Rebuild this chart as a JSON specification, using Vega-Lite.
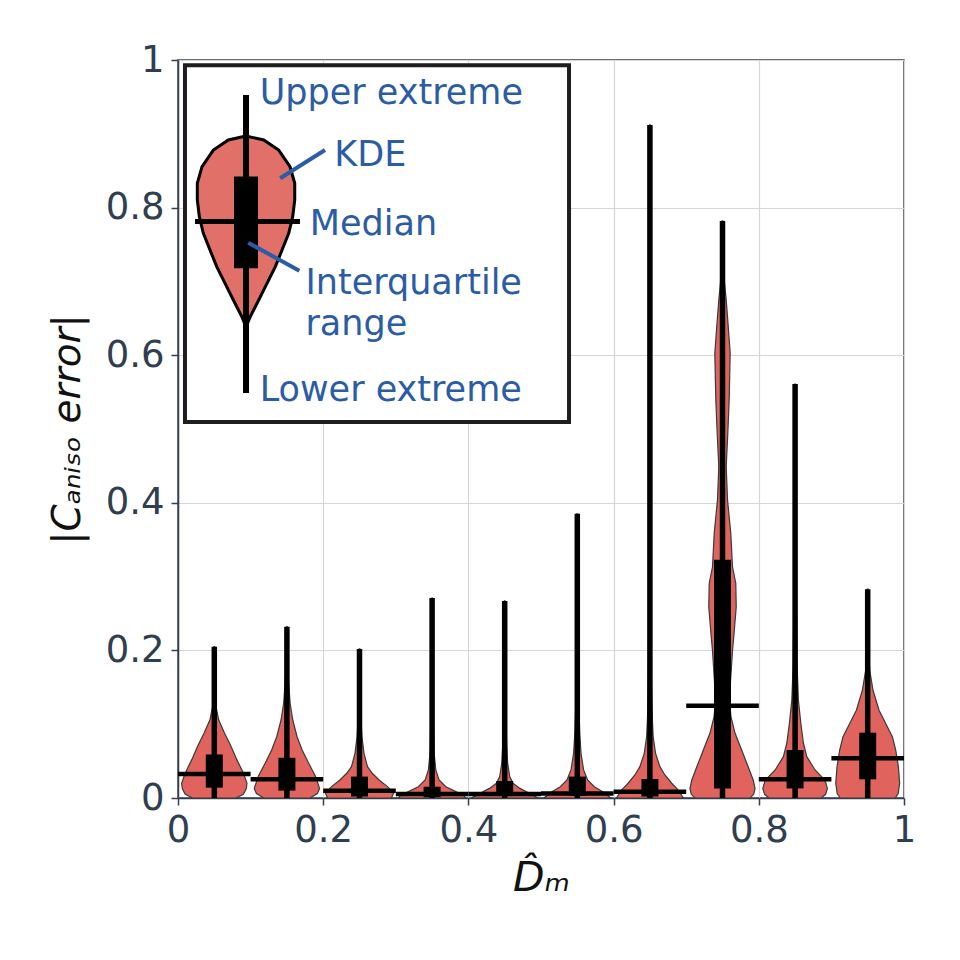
{
  "$schema": "https://vega.github.io/schema/vega-lite/v6.json",
  "autosize": {"type": "none"},
  "padding": {"left": 178, "top": 60, "right": 56, "bottom": 162},
  "width": 726,
  "height": 738,
  "background": "white",
  "config": {
    "font": "DejaVu Sans",
    "view": {"stroke": "#34404f", "strokeWidth": 1.5},
    "axis": {
      "labelFont": "DejaVu Sans",
      "titleFont": "DejaVu Sans",
      "labelFontSize": 37,
      "titleFontSize": 39,
      "labelColor": "#2f3e50",
      "titleColor": "#111111",
      "titleFontWeight": "normal",
      "labelFlush": false,
      "domainColor": "#34404f",
      "domainWidth": 1.5,
      "tickColor": "#34404f",
      "tickSize": 7,
      "tickWidth": 1.5,
      "gridColor": "#d6d6d6",
      "gridWidth": 1.2
    }
  },
  "datasets": {
    "violins": [
      {"g": 0.05, "y": 0, "lo": 0.02, "hi": 0.08},
      {"g": 0.05, "y": 0.005, "lo": 0.01, "hi": 0.09},
      {"g": 0.05, "y": 0.0125, "lo": 0.006, "hi": 0.094},
      {"g": 0.05, "y": 0.02, "lo": 0.005, "hi": 0.095},
      {"g": 0.05, "y": 0.034, "lo": 0.01, "hi": 0.09},
      {"g": 0.05, "y": 0.052, "lo": 0.019, "hi": 0.081},
      {"g": 0.05, "y": 0.07, "lo": 0.027, "hi": 0.073},
      {"g": 0.05, "y": 0.088, "lo": 0.036, "hi": 0.064},
      {"g": 0.05, "y": 0.106, "lo": 0.044, "hi": 0.056},
      {"g": 0.05, "y": 0.124, "lo": 0.0478, "hi": 0.0522},
      {"g": 0.05, "y": 0.15, "lo": 0.049, "hi": 0.051},
      {"g": 0.05, "y": 0.205, "lo": 0.0495, "hi": 0.0505},

      {"g": 0.15, "y": 0, "lo": 0.118, "hi": 0.182},
      {"g": 0.15, "y": 0.006, "lo": 0.108, "hi": 0.192},
      {"g": 0.15, "y": 0.013, "lo": 0.105, "hi": 0.195},
      {"g": 0.15, "y": 0.029, "lo": 0.1105, "hi": 0.1895},
      {"g": 0.15, "y": 0.047, "lo": 0.12, "hi": 0.18},
      {"g": 0.15, "y": 0.065, "lo": 0.129, "hi": 0.171},
      {"g": 0.15, "y": 0.083, "lo": 0.136, "hi": 0.164},
      {"g": 0.15, "y": 0.106, "lo": 0.142, "hi": 0.158},
      {"g": 0.15, "y": 0.128, "lo": 0.1455, "hi": 0.1545},
      {"g": 0.15, "y": 0.151, "lo": 0.1472, "hi": 0.1528},
      {"g": 0.15, "y": 0.173, "lo": 0.1486, "hi": 0.1514},
      {"g": 0.15, "y": 0.232, "lo": 0.1495, "hi": 0.1505},

      {"g": 0.25, "y": 0, "lo": 0.206, "hi": 0.294},
      {"g": 0.25, "y": 0.0065, "lo": 0.203, "hi": 0.297},
      {"g": 0.25, "y": 0.0154, "lo": 0.2115, "hi": 0.2885},
      {"g": 0.25, "y": 0.0244, "lo": 0.223, "hi": 0.277},
      {"g": 0.25, "y": 0.0335, "lo": 0.2324, "hi": 0.2676},
      {"g": 0.25, "y": 0.0425, "lo": 0.239, "hi": 0.261},
      {"g": 0.25, "y": 0.0605, "lo": 0.2438, "hi": 0.2562},
      {"g": 0.25, "y": 0.083, "lo": 0.2466, "hi": 0.2534},
      {"g": 0.25, "y": 0.106, "lo": 0.248, "hi": 0.252},
      {"g": 0.25, "y": 0.15, "lo": 0.2489, "hi": 0.2511},
      {"g": 0.25, "y": 0.202, "lo": 0.2495, "hi": 0.2505},

      {"g": 0.35, "y": 0, "lo": 0.304, "hi": 0.396},
      {"g": 0.35, "y": 0.003, "lo": 0.306, "hi": 0.394},
      {"g": 0.35, "y": 0.0086, "lo": 0.3174, "hi": 0.3826},
      {"g": 0.35, "y": 0.0153, "lo": 0.331, "hi": 0.369},
      {"g": 0.35, "y": 0.0244, "lo": 0.3404, "hi": 0.3596},
      {"g": 0.35, "y": 0.038, "lo": 0.3449, "hi": 0.3551},
      {"g": 0.35, "y": 0.061, "lo": 0.3472, "hi": 0.3528},
      {"g": 0.35, "y": 0.106, "lo": 0.3483, "hi": 0.3517},
      {"g": 0.35, "y": 0.2, "lo": 0.3492, "hi": 0.3508},
      {"g": 0.35, "y": 0.271, "lo": 0.3495, "hi": 0.3505},

      {"g": 0.45, "y": 0, "lo": 0.404, "hi": 0.496},
      {"g": 0.45, "y": 0.0063, "lo": 0.416, "hi": 0.484},
      {"g": 0.45, "y": 0.013, "lo": 0.429, "hi": 0.471},
      {"g": 0.45, "y": 0.02, "lo": 0.4386, "hi": 0.4614},
      {"g": 0.45, "y": 0.029, "lo": 0.4431, "hi": 0.4569},
      {"g": 0.45, "y": 0.047, "lo": 0.4459, "hi": 0.4541},
      {"g": 0.45, "y": 0.0695, "lo": 0.4472, "hi": 0.4528},
      {"g": 0.45, "y": 0.106, "lo": 0.4483, "hi": 0.4517},
      {"g": 0.45, "y": 0.2, "lo": 0.4492, "hi": 0.4508},
      {"g": 0.45, "y": 0.267, "lo": 0.4495, "hi": 0.4505},

      {"g": 0.55, "y": 0, "lo": 0.504, "hi": 0.596},
      {"g": 0.55, "y": 0.0085, "lo": 0.515, "hi": 0.585},
      {"g": 0.55, "y": 0.0153, "lo": 0.5266, "hi": 0.5734},
      {"g": 0.55, "y": 0.0244, "lo": 0.5358, "hi": 0.5642},
      {"g": 0.55, "y": 0.038, "lo": 0.5413, "hi": 0.5587},
      {"g": 0.55, "y": 0.0605, "lo": 0.5449, "hi": 0.5551},
      {"g": 0.55, "y": 0.088, "lo": 0.5466, "hi": 0.5534},
      {"g": 0.55, "y": 0.128, "lo": 0.548, "hi": 0.552},
      {"g": 0.55, "y": 0.25, "lo": 0.549, "hi": 0.551},
      {"g": 0.55, "y": 0.385, "lo": 0.5495, "hi": 0.5505},

      {"g": 0.65, "y": 0, "lo": 0.604, "hi": 0.696},
      {"g": 0.65, "y": 0.0108, "lo": 0.611, "hi": 0.689},
      {"g": 0.65, "y": 0.02, "lo": 0.62, "hi": 0.68},
      {"g": 0.65, "y": 0.0312, "lo": 0.6293, "hi": 0.6707},
      {"g": 0.65, "y": 0.0425, "lo": 0.6362, "hi": 0.6638},
      {"g": 0.65, "y": 0.0605, "lo": 0.6422, "hi": 0.6578},
      {"g": 0.65, "y": 0.083, "lo": 0.6455, "hi": 0.6545},
      {"g": 0.65, "y": 0.106, "lo": 0.6466, "hi": 0.6534},
      {"g": 0.65, "y": 0.151, "lo": 0.6477, "hi": 0.6523},
      {"g": 0.65, "y": 0.3, "lo": 0.649, "hi": 0.651},
      {"g": 0.65, "y": 0.912, "lo": 0.6496, "hi": 0.6504},

      {"g": 0.75, "y": 0, "lo": 0.712, "hi": 0.788},
      {"g": 0.75, "y": 0.005, "lo": 0.707, "hi": 0.793},
      {"g": 0.75, "y": 0.013, "lo": 0.7052, "hi": 0.7948},
      {"g": 0.75, "y": 0.024, "lo": 0.7076, "hi": 0.7924},
      {"g": 0.75, "y": 0.042, "lo": 0.7145, "hi": 0.7855},
      {"g": 0.75, "y": 0.065, "lo": 0.7236, "hi": 0.7764},
      {"g": 0.75, "y": 0.088, "lo": 0.7328, "hi": 0.7672},
      {"g": 0.75, "y": 0.11, "lo": 0.7383, "hi": 0.7617},
      {"g": 0.75, "y": 0.133, "lo": 0.7406, "hi": 0.7594},
      {"g": 0.75, "y": 0.2, "lo": 0.7362, "hi": 0.7638},
      {"g": 0.75, "y": 0.224, "lo": 0.734, "hi": 0.766},
      {"g": 0.75, "y": 0.259, "lo": 0.7311, "hi": 0.7689},
      {"g": 0.75, "y": 0.291, "lo": 0.7317, "hi": 0.7683},
      {"g": 0.75, "y": 0.313, "lo": 0.7362, "hi": 0.7638},
      {"g": 0.75, "y": 0.359, "lo": 0.7386, "hi": 0.7614},
      {"g": 0.75, "y": 0.404, "lo": 0.7431, "hi": 0.7569},
      {"g": 0.75, "y": 0.449, "lo": 0.7449, "hi": 0.7551},
      {"g": 0.75, "y": 0.494, "lo": 0.7427, "hi": 0.7573},
      {"g": 0.75, "y": 0.539, "lo": 0.7408, "hi": 0.7592},
      {"g": 0.75, "y": 0.603, "lo": 0.7394, "hi": 0.7606},
      {"g": 0.75, "y": 0.652, "lo": 0.7431, "hi": 0.7569},
      {"g": 0.75, "y": 0.675, "lo": 0.7449, "hi": 0.7551},
      {"g": 0.75, "y": 0.698, "lo": 0.7472, "hi": 0.7528},
      {"g": 0.75, "y": 0.72, "lo": 0.7483, "hi": 0.7517},
      {"g": 0.75, "y": 0.782, "lo": 0.7495, "hi": 0.7505},

      {"g": 0.85, "y": 0, "lo": 0.814, "hi": 0.886},
      {"g": 0.85, "y": 0.005, "lo": 0.808, "hi": 0.892},
      {"g": 0.85, "y": 0.013, "lo": 0.8055, "hi": 0.8945},
      {"g": 0.85, "y": 0.024, "lo": 0.8087, "hi": 0.8913},
      {"g": 0.85, "y": 0.038, "lo": 0.8225, "hi": 0.8775},
      {"g": 0.85, "y": 0.056, "lo": 0.8339, "hi": 0.8661},
      {"g": 0.85, "y": 0.0745, "lo": 0.8386, "hi": 0.8614},
      {"g": 0.85, "y": 0.101, "lo": 0.8421, "hi": 0.8579},
      {"g": 0.85, "y": 0.133, "lo": 0.8455, "hi": 0.8545},
      {"g": 0.85, "y": 0.178, "lo": 0.8472, "hi": 0.8528},
      {"g": 0.85, "y": 0.3, "lo": 0.8488, "hi": 0.8512},
      {"g": 0.85, "y": 0.561, "lo": 0.8495, "hi": 0.8505},

      {"g": 0.95, "y": 0, "lo": 0.912, "hi": 0.988},
      {"g": 0.95, "y": 0.006, "lo": 0.908, "hi": 0.992},
      {"g": 0.95, "y": 0.02, "lo": 0.906, "hi": 0.994},
      {"g": 0.95, "y": 0.042, "lo": 0.9077, "hi": 0.9923},
      {"g": 0.95, "y": 0.065, "lo": 0.9114, "hi": 0.9886},
      {"g": 0.95, "y": 0.083, "lo": 0.916, "hi": 0.984},
      {"g": 0.95, "y": 0.101, "lo": 0.9252, "hi": 0.9748},
      {"g": 0.95, "y": 0.119, "lo": 0.9344, "hi": 0.9656},
      {"g": 0.95, "y": 0.146, "lo": 0.9427, "hi": 0.9573},
      {"g": 0.95, "y": 0.173, "lo": 0.9472, "hi": 0.9528},
      {"g": 0.95, "y": 0.2, "lo": 0.9486, "hi": 0.9514},
      {"g": 0.95, "y": 0.283, "lo": 0.9495, "hi": 0.9505}
    ],
    "stats": [
      {"g": 0.05, "b0": 0.0, "b1": 0.1, "min": 0, "q1": 0.014, "med": 0.0325, "q3": 0.059, "max": 0.205},
      {"g": 0.15, "b0": 0.1, "b1": 0.2, "min": 0, "q1": 0.01, "med": 0.0253, "q3": 0.0545, "max": 0.232},
      {"g": 0.25, "b0": 0.2, "b1": 0.3, "min": 0, "q1": 0.002, "med": 0.0099, "q3": 0.029, "max": 0.202},
      {"g": 0.35, "b0": 0.3, "b1": 0.4, "min": 0, "q1": 0.001, "med": 0.0054, "q3": 0.0153, "max": 0.271},
      {"g": 0.45, "b0": 0.4, "b1": 0.5, "min": 0, "q1": 0.003, "med": 0.0054, "q3": 0.023, "max": 0.267},
      {"g": 0.55, "b0": 0.5, "b1": 0.6, "min": 0, "q1": 0.003, "med": 0.006, "q3": 0.029, "max": 0.385},
      {"g": 0.65, "b0": 0.6, "b1": 0.7, "min": 0, "q1": 0.002, "med": 0.0085, "q3": 0.0257, "max": 0.912},
      {"g": 0.75, "b0": 0.7, "b1": 0.8, "min": 0, "q1": 0.013, "med": 0.125, "q3": 0.323, "max": 0.782},
      {"g": 0.85, "b0": 0.8, "b1": 0.9, "min": 0, "q1": 0.013, "med": 0.0253, "q3": 0.065, "max": 0.561},
      {"g": 0.95, "b0": 0.9, "b1": 1.0, "min": 0, "q1": 0.0253, "med": 0.0538, "q3": 0.0885, "max": 0.283}
    ],
    "key_box": [
      {"x0": 0.0096, "x1": 0.5386, "y0": 0.5095, "y1": 0.993}
    ],
    "key_violin": [
      {"y": 0.6386, "lo": 0.0937, "hi": 0.0937},
      {"y": 0.6522, "lo": 0.0878, "hi": 0.0996},
      {"y": 0.6748, "lo": 0.0762, "hi": 0.1112},
      {"y": 0.6974, "lo": 0.0648, "hi": 0.1226},
      {"y": 0.72, "lo": 0.0533, "hi": 0.1341},
      {"y": 0.7425, "lo": 0.0441, "hi": 0.1433},
      {"y": 0.7652, "lo": 0.0349, "hi": 0.1525},
      {"y": 0.7877, "lo": 0.0294, "hi": 0.158},
      {"y": 0.8103, "lo": 0.0266, "hi": 0.1608},
      {"y": 0.833, "lo": 0.0266, "hi": 0.1608},
      {"y": 0.8555, "lo": 0.0331, "hi": 0.1543},
      {"y": 0.878, "lo": 0.0487, "hi": 0.1387},
      {"y": 0.8916, "lo": 0.0693, "hi": 0.1181},
      {"y": 0.897, "lo": 0.0937, "hi": 0.0937}
    ],
    "key_stats": [
      {"c": 0.0937, "m0": 0.0234, "m1": 0.168, "lo": 0.5488, "q1": 0.7177, "med": 0.781, "q3": 0.842, "hi": 0.9526}
    ],
    "key_pointers": [
      {"x": 0.1408, "y": 0.8397, "x2": 0.2025, "y2": 0.878},
      {"x": 0.0968, "y": 0.7524, "x2": 0.1671, "y2": 0.7145}
    ],
    "key_labels": [
      {"x": 0.1125, "y": 0.94, "label": "Upper extreme"},
      {"x": 0.2153, "y": 0.8564, "label": "KDE"},
      {"x": 0.1815, "y": 0.7629, "label": "Median"},
      {"x": 0.1755, "y": 0.6825, "label": "Interquartile"},
      {"x": 0.1755, "y": 0.6274, "label": "range"},
      {"x": 0.1125, "y": 0.5384, "label": "Lower extreme"}
    ]
  },
  "layer": [
    {
      "data": {"name": "violins"},
      "mark": {"type": "area", "orient": "horizontal", "fill": "#e0635d", "fillOpacity": 1, "stroke": "#3a3a3a", "strokeWidth": 1.2},
      "encoding": {
        "y": {
          "field": "y",
          "type": "quantitative",
          "scale": {"domain": [0, 1], "nice": false, "zero": false},
          "axis": {
            "values": [0, 0.2, 0.4, 0.6, 0.8, 1],
            "format": "~g",
            "title": "|Cₐₙᵢₛₒ error|",
            "titleFontStyle": "italic",
            "labelPadding": 7,
            "titlePadding": 18
          }
        },
        "x": {
          "field": "lo",
          "type": "quantitative",
          "scale": {"domain": [0, 1], "nice": false, "zero": false},
          "axis": {
            "values": [0, 0.2, 0.4, 0.6, 0.8, 1],
            "format": "~g",
            "title": "D̂ₘ",
            "titleFontSize": 41,
            "titleFontStyle": "italic",
            "labelPadding": 7,
            "titlePadding": 10
          }
        },
        "x2": {"field": "hi"},
        "detail": {"field": "g", "type": "nominal"}
      }
    },
    {
      "data": {"name": "stats"},
      "mark": {"type": "rule", "color": "black", "strokeWidth": 5.5, "strokeCap": "butt"},
      "encoding": {
        "x": {"field": "g", "type": "quantitative"},
        "y": {"field": "min", "type": "quantitative"},
        "y2": {"field": "max"}
      }
    },
    {
      "data": {"name": "stats"},
      "mark": {"type": "rule", "color": "black", "strokeWidth": 17, "strokeCap": "butt"},
      "encoding": {
        "x": {"field": "g", "type": "quantitative"},
        "y": {"field": "q1", "type": "quantitative"},
        "y2": {"field": "q3"}
      }
    },
    {
      "data": {"name": "stats"},
      "mark": {"type": "rule", "color": "black", "strokeWidth": 4.5, "strokeCap": "butt"},
      "encoding": {
        "x": {"field": "b0", "type": "quantitative"},
        "x2": {"field": "b1"},
        "y": {"field": "med", "type": "quantitative"}
      }
    },
    {
      "data": {"name": "key_box"},
      "mark": {"type": "rect", "fill": "white", "stroke": "#1e1e1e", "strokeWidth": 4},
      "encoding": {
        "x": {"field": "x0", "type": "quantitative"},
        "x2": {"field": "x1"},
        "y": {"field": "y0", "type": "quantitative"},
        "y2": {"field": "y1"}
      }
    },
    {
      "data": {"name": "key_violin"},
      "mark": {"type": "area", "orient": "horizontal", "fill": "#e07068", "fillOpacity": 1, "stroke": "black", "strokeWidth": 3},
      "encoding": {
        "y": {"field": "y", "type": "quantitative"},
        "x": {"field": "lo", "type": "quantitative"},
        "x2": {"field": "hi"}
      }
    },
    {
      "data": {"name": "key_stats"},
      "mark": {"type": "rule", "color": "black", "strokeWidth": 6, "strokeCap": "butt"},
      "encoding": {
        "x": {"field": "c", "type": "quantitative"},
        "y": {"field": "lo", "type": "quantitative"},
        "y2": {"field": "hi"}
      }
    },
    {
      "data": {"name": "key_stats"},
      "mark": {"type": "rule", "color": "black", "strokeWidth": 24, "strokeCap": "butt"},
      "encoding": {
        "x": {"field": "c", "type": "quantitative"},
        "y": {"field": "q1", "type": "quantitative"},
        "y2": {"field": "q3"}
      }
    },
    {
      "data": {"name": "key_stats"},
      "mark": {"type": "rule", "color": "black", "strokeWidth": 5, "strokeCap": "butt"},
      "encoding": {
        "x": {"field": "m0", "type": "quantitative"},
        "x2": {"field": "m1"},
        "y": {"field": "med", "type": "quantitative"}
      }
    },
    {
      "data": {"name": "key_pointers"},
      "mark": {"type": "rule", "color": "#2b5ca6", "strokeWidth": 4, "strokeCap": "butt"},
      "encoding": {
        "x": {"field": "x", "type": "quantitative"},
        "y": {"field": "y", "type": "quantitative"},
        "x2": {"field": "x2"},
        "y2": {"field": "y2"}
      }
    },
    {
      "data": {"name": "key_labels"},
      "mark": {"type": "text", "align": "left", "baseline": "alphabetic", "font": "DejaVu Sans", "fontSize": 35, "color": "#2b5ca6"},
      "encoding": {
        "x": {"field": "x", "type": "quantitative"},
        "y": {"field": "y", "type": "quantitative"},
        "text": {"field": "label"}
      }
    }
  ]
}
